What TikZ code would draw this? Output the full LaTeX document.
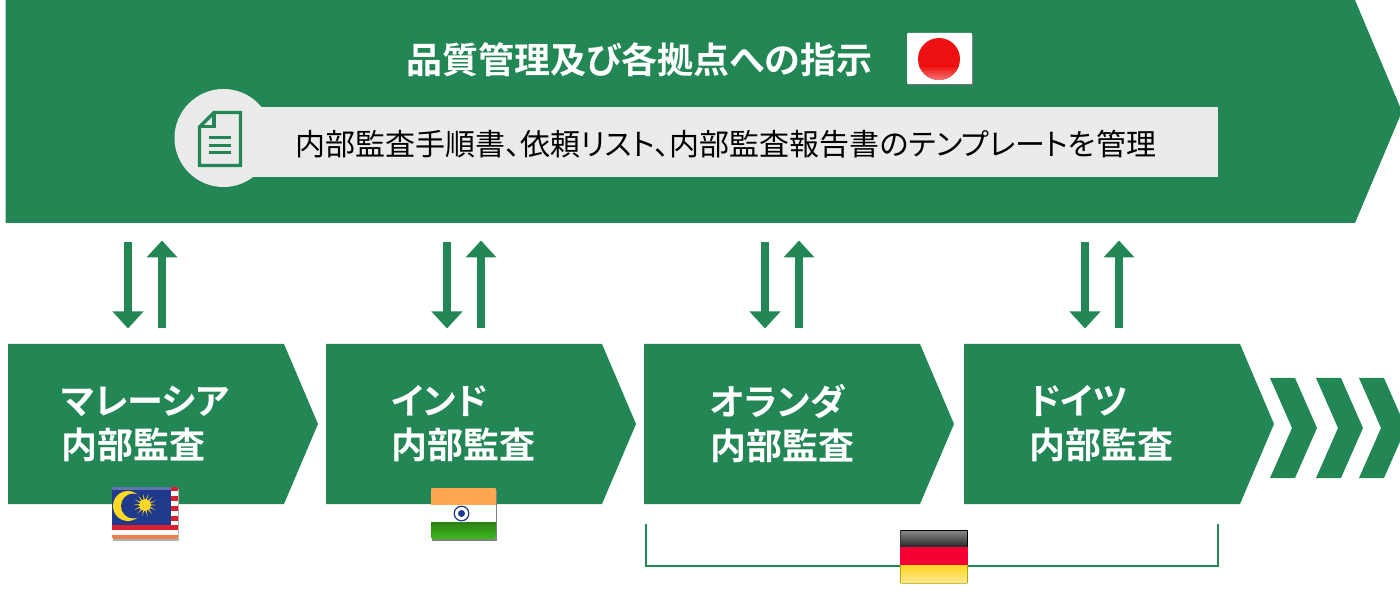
\documentclass[tikz,border=0pt]{standalone}
\usepackage{fontspec}
\setmainfont{Noto Sans CJK JP}
\newfontfamily\jpreg[RawFeature=+palt]{Noto Sans CJK JP}
\newfontfamily\jpbold[RawFeature=+palt]{Noto Sans CJK JP Bold}
\usetikzlibrary{arrows.meta}
\definecolor{brand}{HTML}{228655}
\definecolor{panel}{HTML}{EBEBEB}
\definecolor{sunred}{HTML}{EE1111}
\definecolor{navy}{HTML}{1F3A8C}
\definecolor{msred}{HTML}{D8202F}
\definecolor{msorange}{HTML}{E5814A}
\definecolor{inorange}{HTML}{FFA850}
\definecolor{ingreen}{HTML}{3DB81F}
\definecolor{degold}{HTML}{FBD85A}
\definecolor{msgold}{HTML}{FFD820}
\definecolor{dered}{HTML}{F50035}
\tikzset{
  x=1pt,y=-1pt,
  blockshape/.style={fill=brand,draw=none},
  titletext/.style={text=white,font=\jpbold\fontsize{36}{42}\selectfont,anchor=west,inner sep=0pt},
  bartext/.style={text=black,font=\jpreg\fontsize{30}{34}\selectfont,anchor=west,inner sep=0pt},
  labeltext/.style={text=white,font=\jpbold\fontsize{36}{44}\selectfont,anchor=west,inner sep=0pt,align=left},
  flow/.style={draw=brand,line width=8pt,-{Triangle[width=30pt,length=17pt]},shorten >=-0.5pt},
  bracket/.style={draw=brand,line width=2pt},
  icon/.style={draw=brand,line width=3.4pt,fill=none,line join=miter},
}
\newcommand{\droparrows}[2]{%
  \coordinate (d#1a) at (#2,242);
  \coordinate (d#1b) at (#2,328);
  \coordinate (u#1a) at (#2+34,328);
  \coordinate (u#1b) at (#2+34,241);
  \draw[flow] (d#1a) -- (d#1b);
  \draw[flow] (u#1a) -- (u#1b);
}
\newcommand{\blockat}[1]{%
  \fill[blockshape] (#1,344) -- (#1+276,344) -- (#1+310,424) -- (#1+276,504) -- (#1,504) -- cycle;
}
\newcommand{\chevat}[1]{%
  \fill[blockshape] (#1,378) -- (#1+25,378) -- (#1+47,428) -- (#1+25,478) -- (#1,478) -- (#1+22,428) -- cycle;
}
\newcommand{\sunray}[3]{\fill[#3] (#1) +(#2-9:4.5) -- +(#2:11.5) -- +(#2+9:4.5) -- cycle;}
\begin{document}
\begin{tikzpicture}
\useasboundingbox (0,0) rectangle (1400,593);
\begin{scope}
\clip (0,0) rectangle (1400,593);
% top block
\fill[blockshape] (5.5,0) -- (1355,0) -- (1402,111.5) -- (1355,223) -- (5.5,223) -- cycle;
% grey bar and circle
\fill[panel] (223,107) rectangle (1218,177);
\fill[panel] (223.5,138) circle (49);
% document icon
\draw[icon] (199.5,127) -- (214,112.5) -- (240.5,112.5) -- (240.5,165.5) -- (199.5,165.5) -- cycle;
\draw[icon] (199.5,126.5) -- (214,126.5) -- (214,112.5);
\fill[brand] (209,136.5) rectangle (231,139.5);
\fill[brand] (209,144) rectangle (231,147);
\fill[brand] (209,151.5) rectangle (231,154.5);
% lower blocks
\blockat{8}\blockat{326}\blockat{644}\blockat{964}
\chevat{1270}\chevat{1316}\chevat{1359}
% arrows
\droparrows{1}{128}\droparrows{2}{447}\droparrows{3}{765}\droparrows{4}{1085}
% bracket
\coordinate (bl) at (646,524);
\coordinate (br) at (1217.5,524);
\draw[bracket] (bl) -- (646,566) -- (1217.5,566) -- (br);
\end{scope}
% texts
\node[titletext] (title) at (406.5,60) {品質管理及び各拠点への指示};
\node[bartext] (bar) at (295.5,144) {内部監査手順書、依頼リスト、内部監査報告書のテンプレートを管理};
\node[labeltext] (lmy) at (61,424) {マレーシア\\内部監査};
\node[labeltext] (lin) at (391,424) {インド\\内部監査};
\node[labeltext] (lnl) at (710,424) {オランダ\\内部監査};
\node[labeltext] (lde) at (1029,424) {ドイツ\\内部監査};
% Japan flag
\fill[black!55] (908,35) rectangle (972.5,85);
\fill[white,rounded corners=1pt] (907,33) rectangle (972,84);
\fill[sunred] (939,59) circle (21);
\begin{scope}
\clip (939,59) circle (21);
\shade[top color=sunred,bottom color=sunred!55!white] (915,66) rectangle (965,81);
\end{scope}
% Malaysia flag
\fill[black!30] (113,489) rectangle (178.5,540.5);
\begin{scope}
\clip[rounded corners=2pt] (112,487) rectangle (178,539);
\fill[white] (112,487) rectangle (178,539);
\fill[msred] (171,487) rectangle (178,491);
\foreach \yy in {496,506,516} \fill[msred] (171,\yy) rectangle (178,\yy+5);
\fill[msred] (112,525) rectangle (178,530);
\fill[msorange] (112,535) rectangle (178,539);
\fill[navy] (112,487) rectangle (171,525);
\fill[navy!70!white] (112,487) rectangle (171,490);
\end{scope}
\fill[msgold] (128,506) circle (15);
\fill[navy] (133.5,506) circle (12.5);
\coordinate (sun) at (145,505);
\foreach \aa in {0,26,...,340} \sunray{sun}{\aa}{msgold}
\fill[msgold] (sun) circle (5.5);
% India flag
\fill[black!50] (432,490) rectangle (496.5,540.5);
\begin{scope}
\clip[rounded corners=2pt] (431,488) rectangle (496,539);
\fill[white] (431,488) rectangle (496,539);
\fill[inorange] (431,488) rectangle (496,505);
\shade[top color=ingreen!70!black,bottom color=ingreen] (431,522) rectangle (496,539);
\end{scope}
\draw[navy,line width=1.2pt] (461.5,513.5) circle (7.3);
\fill[navy] (461.5,513.5) circle (3.5);
% Germany flag
\begin{scope}
\clip[rounded corners=1pt] (900,530) rectangle (968,583.5);
\shade[top color=black!45,bottom color=black!85] (900,530) rectangle (968,547);
\fill[dered] (900,547) rectangle (968,565);
\shade[top color=msgold,bottom color=degold!65!white] (900,565) rectangle (968,583.5);
\draw[black,line width=1.6pt] (900,530) -- (968,530);
\draw[black!80,line width=1.5pt] (900,547) -- (900,530);
\draw[black,line width=2pt] (968,547) -- (968,530);
\draw[olive!70!yellow,line width=1.6pt] (900,565) -- (900,583.5) -- (968,583.5) -- (968,565);
\end{scope}
\end{tikzpicture}
\end{document}
